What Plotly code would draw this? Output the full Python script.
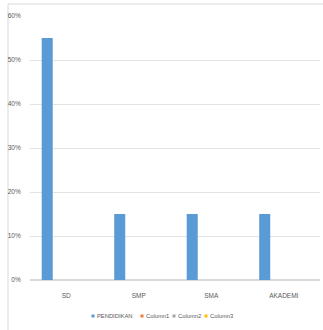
import plotly.graph_objects as go

categories = ["SD", "SMP", "SMA", "AKADEMI"]
pendidikan = [0.55, 0.15, 0.15, 0.15]
column1 = [None, None, None, None]
column2 = [None, None, None, None]
column3 = [None, None, None, None]
tick_vals = [0, 0.1, 0.2, 0.3, 0.4, 0.5, 0.6]
tick_text = ["0%", "10%", "20%", "30%", "40%", "50%", "60%"]

series = [
    ("PENDIDIKAN", pendidikan, "#5B9BD5"),
    ("Column1", column1, "#ED7D31"),
    ("Column2", column2, "#A5A5A5"),
    ("Column3", column3, "#FFC000"),
]

font_family = "Liberation Sans Narrow, Liberation Sans, Arial Narrow, sans-serif"
txt_color = "#595959"

fig = go.Figure()
for name, vals, color in series:
    fig.add_trace(go.Bar(x=categories, y=vals, name=name, marker_color=color,
                         marker_line_width=0, showlegend=False))

# plot area in px: x 30..320, y 16..280
def xp(px):
    return (px - 30) / 290.0

def yp(py):
    return (280 - py) / 264.0

legend_x = [93, 142, 174, 206]
legend_y = 316
shapes = [dict(type="rect", xref="paper", yref="paper",
               x0=xp(8), x1=1.08, y0=-0.3, y1=yp(4),
               line=dict(color="#D9D9D9", width=1), layer="below")]
annotations = []
for (name, vals, color), lx in zip(series, legend_x):
    shapes.append(dict(type="rect", xref="paper", yref="paper",
                       x0=xp(lx - 1.5), x1=xp(lx + 1.5),
                       y0=yp(legend_y + 1.5), y1=yp(legend_y - 1.5),
                       fillcolor=color, line=dict(width=0)))
    annotations.append(dict(text=name, xref="paper", yref="paper",
                            x=xp(lx + 2), y=yp(legend_y), xanchor="left",
                            yanchor="middle", showarrow=False,
                            font=dict(size=5.8, color=txt_color, family=font_family)))

fig.update_layout(
    width=323, height=330,
    margin=dict(l=30, r=3, t=16, b=50),
    paper_bgcolor="white", plot_bgcolor="white",
    barmode="group", bargap=0.30, bargroupgap=0.13,
    font=dict(family=font_family, size=6.5, color=txt_color),
    showlegend=False,
    xaxis=dict(showgrid=False, showline=False, ticks="outside", ticklen=9,
               tickcolor="rgba(0,0,0,0)", tickfont=dict(size=6.5)),
    yaxis=dict(range=[0, 0.6], tickvals=tick_vals, ticktext=tick_text,
               showgrid=True, gridcolor="#E3E3E3", gridwidth=1,
               zeroline=True, zerolinecolor="#D9D9D9", showline=False,
               ticks="outside", ticklen=7, tickcolor="rgba(0,0,0,0)",
               tickfont=dict(size=6.5)),
    shapes=shapes,
    annotations=annotations,
)

fig.write_html("out.html")
